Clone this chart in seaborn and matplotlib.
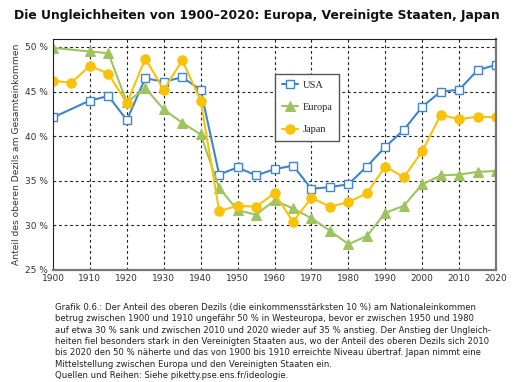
import pandas as pd
import numpy as np
import matplotlib.pyplot as plt
import seaborn as sns

# Anteil des oberen Dezils (%)
years_usa = [1900, 1910, 1915, 1920, 1925, 1930, 1935, 1940, 1945, 1950, 1955, 1960,
             1965, 1970, 1975, 1980, 1985, 1990, 1995, 2000, 2005, 2010, 2015, 2020]
usa = [42.1, 44.0, 44.5, 41.8, 46.5, 46.1, 46.6, 45.2, 35.7, 36.5, 35.6, 36.3,
       36.7, 34.1, 34.3, 34.6, 36.6, 38.8, 40.7, 43.3, 45.0, 45.2, 47.4, 48.0]

years_eu = [1900, 1910, 1915, 1920, 1925, 1930, 1935, 1940, 1945, 1950, 1955, 1960,
            1965, 1970, 1975, 1980, 1985, 1990, 1995, 2000, 2005, 2010, 2015, 2020]
europa = [49.9, 49.5, 49.3, 43.8, 45.4, 43.0, 41.5, 40.2, 34.2, 31.7, 31.2, 32.8,
          31.9, 30.8, 29.4, 27.9, 28.8, 31.4, 32.2, 34.6, 35.6, 35.7, 36.0, 36.1]

years_jp = [1900, 1905, 1910, 1915, 1920, 1925, 1930, 1935, 1940, 1945, 1950, 1955,
            1960, 1965, 1970, 1975, 1980, 1985, 1990, 1995, 2000, 2005, 2010, 2015, 2020]
japan = [46.2, 46.0, 47.9, 47.0, 43.7, 48.7, 45.2, 48.5, 44.0, 31.6, 32.2, 32.1,
         33.6, 30.4, 33.1, 32.1, 32.6, 33.6, 36.6, 35.4, 38.3, 42.4, 41.9, 42.2, 42.1]

x_ticks = list(range(1900, 2021, 10))
y_ticks = [25, 30, 35, 40, 45, 50]

title = "Die Ungleichheiten von 1900–2020: Europa, Vereinigte Staaten, Japan"
ylabel = "Anteil des oberen Dezils am Gesamteinkommen"
caption = [
    "Grafik 0.6.: Der Anteil des oberen Dezils (die einkommensstärksten 10 %) am Nationaleinkommen",
    "betrug zwischen 1900 und 1910 ungefähr 50 % in Westeuropa, bevor er zwischen 1950 und 1980",
    "auf etwa 30 % sank und zwischen 2010 und 2020 wieder auf 35 % anstieg. Der Anstieg der Ungleich-",
    "heiten fiel besonders stark in den Vereinigten Staaten aus, wo der Anteil des oberen Dezils sich 2010",
    "bis 2020 den 50 % näherte und das von 1900 bis 1910 erreichte Niveau übertraf. Japan nimmt eine",
    "Mittelstellung zwischen Europa und den Vereinigten Staaten ein.",
    "Quellen und Reihen: Siehe piketty.pse.ens.fr/ideologie.",
]

sns.set_theme(style="white")
plt.rcParams['font.family'] = ['DejaVu Sans']

fig = plt.figure(figsize=(5.13, 3.82), dpi=100)
ax = fig.add_axes([0.1033, 0.2932, 0.8637, 0.6048])

blue = "#3f86c8"
green = "#9dc45f"
gold = "#f9c20a"

sns.lineplot(x=years_usa, y=usa, ax=ax, color=blue, lw=1.5, marker="s", markersize=5.8,
             markerfacecolor="white", markeredgecolor=blue, markeredgewidth=1.0, label="USA")
sns.lineplot(x=years_eu, y=europa, ax=ax, color=green, lw=1.5, marker="^", markersize=6.8,
             markeredgecolor=green, label="Europa")
sns.lineplot(x=years_jp, y=japan, ax=ax, color=gold, lw=1.5, marker="o", markersize=6.8,
             markeredgecolor=gold, label="Japan")

ax.set_xlim(1900, 2020)
ax.set_ylim(25, 50.9)
ax.set_xticks(x_ticks)
ax.set_yticks(y_ticks)
ax.set_yticklabels([f"{v} %" for v in y_ticks])
ax.tick_params(axis="both", labelsize=6.5, colors="#333333", length=3, width=0.8, direction="in")
ax.tick_params(axis="x", pad=3)
for v in x_ticks[1:]:
    ax.axvline(v, color="#222222", lw=0.8, ls=(0, (2.5, 2.5)), zorder=0)
for v in y_ticks[1:]:
    ax.axhline(v, color="#222222", lw=0.8, ls=(0, (2.5, 2.5)), zorder=0)

for side in ["left", "top"]:
    ax.spines[side].set_color("#222222")
    ax.spines[side].set_linewidth(0.8)
for side in ["bottom", "right"]:
    ax.spines[side].set_color("#777777")
    ax.spines[side].set_linewidth(1.6)

ax.set_ylabel(ylabel, fontsize=6.6, color="#333333", labelpad=3)
ax.set_xlabel("")

leg = ax.legend(loc="upper left", bbox_to_anchor=(0.49, 0.87), frameon=True,
                fancybox=False, edgecolor="#555555", framealpha=1,
                prop={"family": "Liberation Serif", "size": 7.5},
                handlelength=1.6, handletextpad=0.4, labelspacing=1.25, borderpad=0.6)
leg.get_frame().set_linewidth(1.0)

fig.text(0.028, 0.96, title, fontsize=8.9, fontweight="bold", color="#111111", va="center")

y0 = 0.195
for i, line in enumerate(caption):
    fig.text(0.107, y0 - i * 0.0296, line, fontsize=6.15, color="#222222", va="center")

fig.savefig("out.png", dpi=100)
